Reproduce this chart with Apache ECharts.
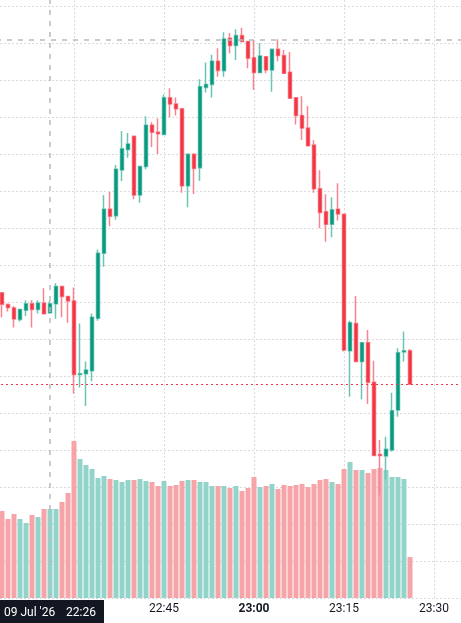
<!DOCTYPE html>
<html lang="en">
<head>
<meta charset="UTF-8">
<title>Candles</title>
<style>
    html, body { margin: 0; padding: 0; background: #fff; }
    #chartmain { width: 461px; height: 623px; }
</style>
</head>
<body>
<div id="chartmain"></div>
<script src="https://cdn.jsdelivr.net/npm/echarts@6/dist/echarts.min.js"></script>
<script type="text/javascript">
    // one candle per minute
    var times = ['22:18', '22:19', '22:20', '22:21', '22:22', '22:23', '22:24', '22:25', '22:26', '22:27',
        '22:28', '22:29', '22:30', '22:31', '22:32', '22:33', '22:34', '22:35', '22:36', '22:37',
        '22:38', '22:39', '22:40', '22:41', '22:42', '22:43', '22:44', '22:45', '22:46', '22:47',
        '22:48', '22:49', '22:50', '22:51', '22:52', '22:53', '22:54', '22:55', '22:56', '22:57',
        '22:58', '22:59', '23:00', '23:01', '23:02', '23:03', '23:04', '23:05', '23:06', '23:07',
        '23:08', '23:09', '23:10', '23:11', '23:12', '23:13', '23:14', '23:15', '23:16', '23:17',
        '23:18', '23:19', '23:20', '23:21', '23:22', '23:23', '23:24', '23:25', '23:26'];
    var padBefore = ['22:17'];
    var padAfter = ['23:27', '23:28', '23:29', '23:30', '23:31', '23:32', '23:33', '23:34', '23:35'];
    var gridTimes = ['22:30', '22:45', '23:00', '23:15', '23:30'];
    var tickLabels = ['22:45', '23:00', '23:15', '23:30']; // 22:30 sits under the date box

    var opens = [108.25, 107.93, 107.84, 107.53, 107.78, 107.95, 107.80, 107.97, 107.71, 107.95,
        108.42, 108.15, 108.03, 106.04, 106.06, 106.14, 107.56, 109.32, 110.51, 110.33,
        111.57, 112.12, 112.48, 110.89, 111.66, 112.78, 112.59, 112.53, 113.52, 113.35,
        113.22, 111.14, 111.99, 111.63, 113.80, 113.88, 114.51, 114.25, 115.13, 114.93,
        115.20, 115.04, 114.60, 114.20, 114.63, 114.27, 114.83, 114.66, 114.21, 113.52,
        113.04, 112.70, 112.24, 111.06, 110.44, 110.10, 110.51, 110.37, 106.68, 107.42,
        106.39, 106.90, 105.83, 103.88, 103.84, 104.00, 105.08, 106.65, 106.68];
    var closes = [107.94, 107.85, 107.54, 107.80, 107.95, 107.80, 107.97, 107.68, 107.95, 108.42,
        108.15, 108.03, 106.04, 106.06, 106.16, 107.59, 109.32, 110.51, 110.32, 111.59,
        112.14, 112.27, 110.89, 111.66, 112.78, 112.59, 112.55, 113.52, 113.35, 113.22,
        111.14, 111.99, 111.61, 113.82, 113.88, 114.51, 114.26, 115.11, 114.93, 115.20,
        115.04, 114.59, 114.20, 114.65, 114.27, 114.83, 114.66, 114.18, 113.51, 113.04,
        112.70, 112.22, 111.06, 110.42, 110.10, 110.49, 110.38, 106.70, 107.44, 106.39,
        106.90, 105.83, 103.85, 103.85, 104.02, 105.06, 106.63, 106.68, 105.78];
    var lows = [107.59, 107.74, 107.31, 107.47, 107.62, 107.31, 107.69, 107.68, 107.68, 107.55,
        107.59, 107.44, 105.53, 105.69, 105.19, 105.86, 107.49, 108.95, 110.05, 110.22,
        111.27, 111.90, 110.78, 110.68, 111.59, 112.19, 112.00, 112.53, 112.99, 113.04,
        110.95, 110.56, 110.92, 111.27, 113.66, 113.53, 114.09, 114.09, 114.72, 114.54,
        115.04, 114.32, 113.73, 114.20, 114.18, 113.68, 114.51, 114.18, 113.51, 112.80,
        112.38, 112.22, 110.95, 109.99, 109.63, 109.75, 110.20, 106.66, 105.44, 106.37,
        105.37, 105.24, 103.85, 102.78, 103.21, 103.95, 104.90, 106.39, 105.78];
    var highs = [108.25, 107.96, 107.89, 107.80, 108.05, 108.05, 108.05, 108.37, 108.03, 108.51,
        108.42, 108.16, 108.39, 107.42, 106.39, 107.69, 109.42, 110.89, 110.98, 111.70,
        112.62, 112.57, 112.48, 111.68, 113.02, 112.86, 112.96, 113.61, 113.78, 113.53,
        113.22, 112.02, 112.02, 114.02, 114.47, 114.68, 114.86, 115.29, 115.27, 115.37,
        115.41, 115.04, 115.08, 114.99, 114.63, 114.83, 115.10, 114.81, 114.76, 113.52,
        113.56, 113.30, 112.37, 111.56, 110.91, 110.83, 111.21, 110.37, 107.49, 108.16,
        106.90, 107.24, 106.41, 104.27, 104.36, 105.55, 106.75, 107.20, 106.73];
    var volumes = [870, 790, 840, 790, 750, 830, 810, 890, 890, 890,
        960, 1050, 1570, 1390, 1330, 1290, 1200, 1220, 1190, 1180,
        1160, 1180, 1180, 1190, 1170, 1160, 1120, 1170, 1120, 1130,
        1170, 1180, 1180, 1160, 1160, 1120, 1120, 1120, 1100, 1120,
        1070, 1100, 1210, 1110, 1120, 1140, 1090, 1130, 1120, 1130,
        1140, 1110, 1140, 1180, 1190, 1160, 1140, 1290, 1360, 1280,
        1280, 1250, 1290, 1300, 1280, 1210, 1210, 1190, 410];

    var cursorDate = "09 Jul '26";
    var cursorTime = '22:26';
    var cursorPrice = 115.1;

    var upColor = '#089981', downColor = '#f23645';
    var upWick = '#6cc4b2', downWick = '#f7848e';
    var volUp = '#92d4ca', volDown = '#f7a4a8';

    var cats = padBefore.concat(times, padAfter);
    var empty = padBefore.map(function () { return '-'; });
    var wickData = empty.concat(times.map(function (t, i) {
        return [opens[i], closes[i], lows[i], highs[i]];
    }));
    var bodyData = empty.concat(times.map(function (t, i) {
        return [opens[i], closes[i], Math.min(opens[i], closes[i]), Math.max(opens[i], closes[i])];
    }));
    var volData = empty.concat(volumes.map(function (v, i) {
        return { value: v, itemStyle: { color: closes[i] >= opens[i] ? volUp : volDown } };
    }));

    var mychart = echarts.init(document.getElementById('chartmain'));
    var option = {
        animation: false,
        grid: { left: -4, right: -3, top: 0, bottom: 25, outerBoundsMode: 'none' },
        xAxis: {
            type: 'category',
            data: cats,
            boundaryGap: false,
            axisLine: { show: false },
            axisTick: { show: false },
            axisLabel: {
                interval: function (idx, val) { return tickLabels.indexOf(val) >= 0; },
                formatter: function (val) {
                    return /:00$/.test(val) ? '{b|' + val + '}' : val;
                },
                color: '#131722',
                fontFamily: 'Roboto',
                fontSize: 12,
                margin: 5,
                rich: { b: { fontWeight: 'bold', fontFamily: 'Roboto', fontSize: 12, color: '#131722' } }
            },
            splitLine: {
                show: true,
                interval: function (idx, val) { return gridTimes.indexOf(val) >= 0; },
                lineStyle: { color: '#d9dbe0', type: [2, 2], width: 1 }
            }
        },
        yAxis: [{
            type: 'value',
            min: 100,
            max: 100 + 598 / 37,
            interval: 1,
            axisLine: { show: false },
            axisTick: { show: false },
            axisLabel: { show: false },
            splitLine: {
                show: true,
                showMaxLine: false,
                lineStyle: { color: '#d9dbe0', type: [2, 2], width: 1 }
            }
        }, {
            type: 'value',
            min: 0,
            max: 5980,
            show: false,
            splitLine: { show: false }
        }],
        series: [{
            name: 'volume',
            type: 'bar',
            yAxisIndex: 1,
            barWidth: 5,
            data: volData
        }, {
            name: 'wick',
            type: 'candlestick',
            barWidth: 4,
            itemStyle: {
                color: upWick, color0: downWick,
                borderColor: upWick, borderColor0: downWick,
                borderWidth: 1.5
            },
            data: wickData
        }, {
            name: 'body',
            type: 'candlestick',
            barWidth: 3.5,
            itemStyle: {
                color: upColor, color0: downColor,
                borderColor: upColor, borderColor0: downColor,
                borderWidth: 0
            },
            data: bodyData,
            markLine: {
                silent: true,
                symbol: 'none',
                label: { show: false },
                data: [
                    { yAxis: closes[closes.length - 1], lineStyle: { color: downColor, type: [2, 3], width: 1 } },
                    { yAxis: cursorPrice, lineStyle: { color: '#b8bac1', type: [5, 6], width: 1.5 } },
                    { xAxis: cursorTime, lineStyle: { color: '#b8bac1', type: [5, 6], width: 1.5 } }
                ]
            }
        }],
        graphic: [{
            type: 'rect',
            left: 0,
            bottom: 0,
            z: 100,
            shape: { width: 104, height: 23 },
            style: { fill: '#131722' }
        }, {
            type: 'text',
            left: 4,
            bottom: 4,
            z: 101,
            style: { text: cursorDate, fill: '#ffffff', font: '12px Roboto' }
        }, {
            type: 'text',
            left: 66,
            bottom: 4,
            z: 101,
            style: { text: cursorTime, fill: '#ffffff', font: '12px Roboto' }
        }]
    };
    mychart.setOption(option, true);
</script>
</body>
</html>
